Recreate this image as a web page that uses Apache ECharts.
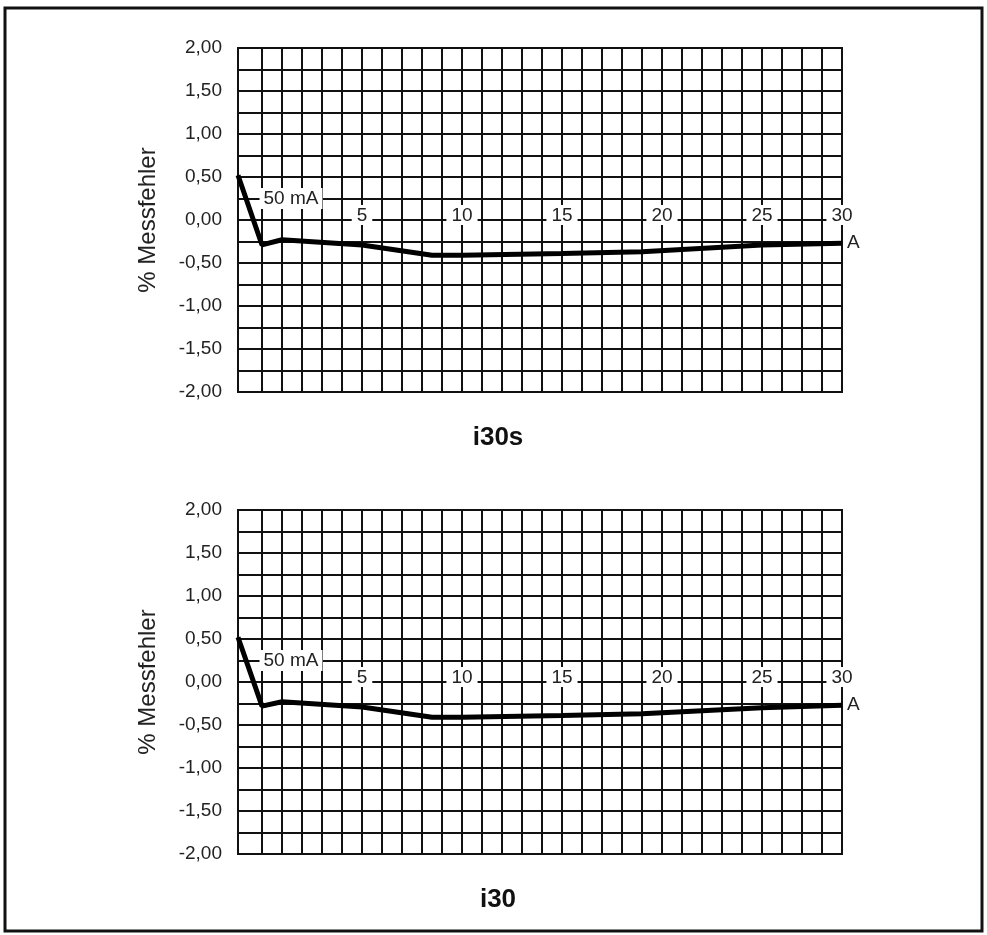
<!DOCTYPE html>
<html>
<head>
<meta charset="utf-8">
<script src="https://cdn.jsdelivr.net/npm/echarts@6/dist/echarts.min.js"></script>
<style>
html,body{margin:0;padding:0;background:#fff}
#chart{width:987px;height:935px}
</style>
</head>
<body>
<div id="chart"></div>
<script>
// x is counted in grid columns: 0 = first vertical line, the "30" tick sits on the right edge
var xTop = [-1.2, 0, 1, 5, 8.5, 10, 15, 19, 25, 29];
var yTop = [0.52, -0.29, -0.23, -0.29, -0.41, -0.41, -0.39, -0.37, -0.29, -0.27];
var xBottom = [-1.2, 0, 1, 5, 8.5, 10, 15, 19, 25, 29];
var yBottom = [0.52, -0.28, -0.23, -0.29, -0.41, -0.41, -0.39, -0.37, -0.30, -0.27];

var xTickValues = [5, 10, 15, 20, 25, 29];
var xTickLabels = ['5', '10', '15', '20', '25', '30'];
var yLabelValues = [-2, -1.5, -1, -0.5, 0, 0.5, 1, 1.5, 2];
var chartTitles = ['i30s', 'i30'];

var FONT = '"Liberation Sans", Arial, sans-serif';
var gridTops = [48, 510];

// vertical grid lines, one per column
var xGridValues = [];
for (var c = 0; c <= 29; c++) { xGridValues.push(c); }

function toPairs(xs, ys) {
    return xs.map(function (x, i) { return [x, ys[i]]; });
}

var myChart = echarts.init(document.getElementById('chart'));

var grids = [], xAxes = [], yAxes = [], seriesList = [], titles = [];
[[xTop, yTop], [xBottom, yBottom]].forEach(function (d, i) {
    grids.push({
        left: 238, top: gridTops[i], width: 604, height: 344,
        show: true, borderColor: '#111', borderWidth: 2
    });
    xAxes.push({
        type: 'value', gridIndex: i, min: -1.2, max: 29,
        position: 'bottom',
        // tick labels run along the 0,00 line, half way up the plot
        offset: -172,
        axisLine: { show: true, onZero: false, lineStyle: { color: '#111', width: 2 } },
        axisTick: { show: false, customValues: xGridValues },
        splitLine: { show: true, lineStyle: { color: '#111', width: 2 } },
        axisLabel: {
            customValues: xTickValues,
            formatter: function (v) {
                var k = xTickValues.indexOf(v);
                return k < 0 ? '' : xTickLabels[k];
            },
            margin: -15,
            fontSize: 19, fontFamily: FONT, color: '#222',
            lineHeight: 17,
            backgroundColor: '#fff', padding: [2, 5, 1, 5]
        }
    });
    yAxes.push({
        type: 'value', gridIndex: i, min: -2, max: 2, interval: 0.25,
        name: '% Messfehler', nameLocation: 'middle', nameRotate: 90, nameGap: 78,
        nameTextStyle: { fontSize: 24, fontFamily: FONT, color: '#222' },
        axisLine: { show: false },
        axisTick: { show: false },
        splitLine: { show: true, lineStyle: { color: '#111', width: 2 } },
        axisLabel: {
            customValues: yLabelValues,
            formatter: function (v) { return v.toFixed(2).replace('.', ','); },
            margin: 16, fontSize: 19, fontFamily: FONT, color: '#222'
        }
    });
    seriesList.push({
        type: 'line', xAxisIndex: i, yAxisIndex: i, z: 3,
        symbol: 'none',
        lineStyle: { color: '#000', width: 5 },
        data: toPairs(d[0], d[1]),
        endLabel: {
            show: true, formatter: 'A', distance: 5,
            fontSize: 19, fontFamily: FONT, color: '#222'
        },
        markPoint: {
            symbol: 'rect', symbolSize: 1,
            itemStyle: { color: 'rgba(0,0,0,0)' },
            label: {
                show: true, position: 'inside', formatter: '50 mA',
                fontSize: 19, fontFamily: FONT, color: '#222',
                backgroundColor: '#fff', padding: [1, 4]
            },
            data: [{ coord: [1.45, 0.25] }]
        }
    });
    titles.push({
        text: chartTitles[i], left: 493, top: gridTops[i] + 372, textAlign: 'center',
        textStyle: { fontSize: 26, fontWeight: 'bold', fontFamily: FONT, color: '#111' }
    });
});

myChart.setOption({
    backgroundColor: '#fff',
    animation: false,
    title: titles,
    grid: grids,
    xAxis: xAxes,
    yAxis: yAxes,
    series: seriesList,
    graphic: [{
        type: 'rect', shape: { x: 5, y: 8, width: 977, height: 923 },
        style: { fill: 'none', stroke: '#111', lineWidth: 3 }, silent: true
    }]
});
</script>
</body>
</html>
